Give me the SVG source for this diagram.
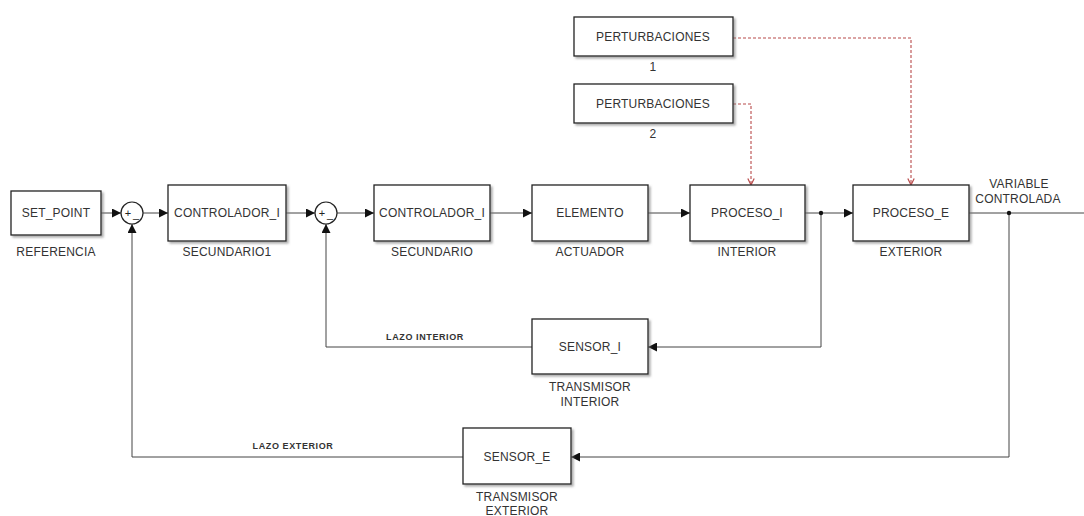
<svg xmlns="http://www.w3.org/2000/svg" width="1084" height="516" viewBox="0 0 1084 516">
<defs>
<style>
.box{fill:#fff;stroke:#222;stroke-width:1.3;filter:url(#sh)}
.t{font-family:"Liberation Sans",Arial,sans-serif;font-size:12px;letter-spacing:0.2px;fill:#333;text-anchor:middle}
.s{font-family:"Liberation Sans",Arial,sans-serif;font-size:9px;font-weight:bold;letter-spacing:0.6px;fill:#333;text-anchor:middle}
.p{font-family:"Liberation Sans",Arial,sans-serif;font-size:11px;fill:#222;text-anchor:middle}
.w{fill:none;stroke:#444;stroke-width:1}
.d{fill:none;stroke:#b84a4a;stroke-width:1.1;stroke-dasharray:3,2}
.sum{fill:#fff;stroke:#222;stroke-width:1.2}
</style>
<filter id="sh" x="-10%" y="-10%" width="130%" height="130%">
<feDropShadow dx="2" dy="2" stdDeviation="1" flood-color="#777" flood-opacity="0.6"/>
</filter>
<marker id="a" viewBox="0 0 10 10" refX="10" refY="5" markerWidth="9" markerHeight="9" markerUnits="userSpaceOnUse" orient="auto">
<path d="M0,0 L10,5 L0,10 z" fill="#111"/>
</marker>
<marker id="r" viewBox="0 0 10 10" refX="9" refY="5" markerWidth="8" markerHeight="8" markerUnits="userSpaceOnUse" orient="auto">
<path d="M1,1 L9,5 L1,9" fill="none" stroke="#b84a4a" stroke-width="1.5"/>
</marker>
</defs>
<rect width="1084" height="516" fill="#fff"/>

<g id="connectors">
<line class="w" x1="101" y1="213" x2="121" y2="213" marker-end="url(#a)"/>
<line class="w" x1="143" y1="213" x2="168" y2="213" marker-end="url(#a)"/>
<line class="w" x1="286" y1="213" x2="315" y2="213" marker-end="url(#a)"/>
<line class="w" x1="337" y1="213" x2="374" y2="213" marker-end="url(#a)"/>
<line class="w" x1="490" y1="213" x2="532" y2="213" marker-end="url(#a)"/>
<line class="w" x1="648" y1="213" x2="690" y2="213" marker-end="url(#a)"/>
<line class="w" x1="805" y1="213" x2="853" y2="213" marker-end="url(#a)"/>
<line class="w" x1="969" y1="213" x2="1084" y2="213"/>
<polyline class="w" points="821,213 821,347 648,347" marker-end="url(#a)"/>
<polyline class="w" points="532,347 326,347 326,224" marker-end="url(#a)"/>
<polyline class="w" points="1009,213 1009,457 571,457" marker-end="url(#a)"/>
<polyline class="w" points="463,457 132,457 132,224" marker-end="url(#a)"/>
<circle cx="821" cy="213" r="2.2" fill="#111"/>
<circle cx="1009" cy="213" r="2.2" fill="#111"/>
<polyline class="d" points="733,38 911,38 911,185" marker-end="url(#r)"/>
<polyline class="d" points="733,104 751,104 751,185" marker-end="url(#r)"/>
<text class="s" x="425" y="340">LAZO INTERIOR</text>
<text class="s" x="293" y="449">LAZO EXTERIOR</text>
<text class="t" x="1019" y="188">VARIABLE</text>
<text class="t" x="1018" y="203">CONTROLADA</text>
</g>

<g id="set_point">
<rect class="box" x="11" y="191" width="90" height="44"/>
<text class="t" x="56" y="217">SET_POINT</text>
<text class="t" x="56" y="256">REFERENCIA</text>
</g>

<g id="sum1">
<circle class="sum" cx="132" cy="213" r="11"/>
<text class="p" x="128" y="217">+</text>
<text class="p" x="136" y="218">_</text>
</g>

<g id="controlador1">
<rect class="box" x="168" y="185" width="118" height="56"/>
<text class="t" x="227" y="217">CONTROLADOR_I</text>
<text class="t" x="227" y="256">SECUNDARIO1</text>
</g>

<g id="sum2">
<circle class="sum" cx="326" cy="213" r="11"/>
<text class="p" x="322" y="217">+</text>
<text class="p" x="330" y="218">_</text>
</g>

<g id="controlador2">
<rect class="box" x="374" y="185" width="116" height="56"/>
<text class="t" x="432" y="217">CONTROLADOR_I</text>
<text class="t" x="432" y="256">SECUNDARIO</text>
</g>

<g id="elemento">
<rect class="box" x="532" y="185" width="116" height="56"/>
<text class="t" x="590" y="217">ELEMENTO</text>
<text class="t" x="590" y="256">ACTUADOR</text>
</g>

<g id="proceso_i">
<rect class="box" x="690" y="185" width="115" height="56"/>
<text class="t" x="747" y="217">PROCESO_I</text>
<text class="t" x="747" y="256">INTERIOR</text>
</g>

<g id="proceso_e">
<rect class="box" x="853" y="185" width="116" height="56"/>
<text class="t" x="911" y="217">PROCESO_E</text>
<text class="t" x="911" y="256">EXTERIOR</text>
</g>

<g id="perturbaciones1">
<rect class="box" x="574" y="17" width="159" height="39"/>
<text class="t" x="653" y="41">PERTURBACIONES</text>
<text class="t" x="653" y="71">1</text>
</g>

<g id="perturbaciones2">
<rect class="box" x="574" y="84" width="159" height="39"/>
<text class="t" x="653" y="108">PERTURBACIONES</text>
<text class="t" x="653" y="138">2</text>
</g>

<g id="sensor_i">
<rect class="box" x="532" y="319" width="116" height="55"/>
<text class="t" x="590" y="351">SENSOR_I</text>
<text class="t" x="590" y="391">TRANSMISOR</text>
<text class="t" x="590" y="406">INTERIOR</text>
</g>

<g id="sensor_e">
<rect class="box" x="463" y="428" width="108" height="56"/>
<text class="t" x="517" y="461">SENSOR_E</text>
<text class="t" x="517" y="501">TRANSMISOR</text>
<text class="t" x="517" y="515">EXTERIOR</text>
</g>
</svg>
